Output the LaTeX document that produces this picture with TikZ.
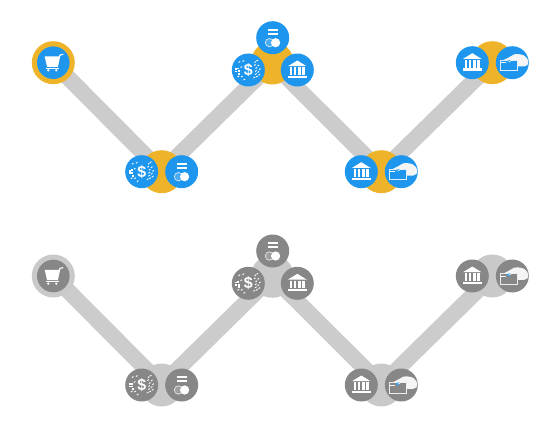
\documentclass[tikz,border=0pt]{standalone}
\usepackage{fontspec}
\setsansfont{Liberation Sans}
\usetikzlibrary{backgrounds}
\definecolor{goldc}{HTML}{EFB329}
\definecolor{bluec}{HTML}{1E96EE}
\definecolor{greyc}{HTML}{878787}
\definecolor{softc}{HTML}{C9C9C9}
\definecolor{linec}{HTML}{CCCCCC}
\definecolor{markc}{HTML}{3FA4EE}
\tikzset{
  hub/.style={circle,inner sep=0pt,minimum size=43pt,fill=hubc},
  tool/.style={circle,inner sep=0pt,minimum size=33pt,fill=toolc},
  link/.style={line width=16pt,draw=linec},
  pics/cart/.style={code={
    \fill[white] (-8.6,-6.2) -- (6.2,-6.2) -- (4.2,4.2) -- (-6.2,4.2) -- cycle;
    \draw[white,line width=1.1pt] (4,4.2) -- (6.6,-7.6) -- (10,-8.4);
    \draw[white,line width=1.2pt] (-7,5.6) -- (5.2,5.6);
    \fill[white] (-5,7.6) circle (1.3pt) (3,7.6) circle (1.3pt);
  }},
  pics/dollar/.style={code={
    \node[text=white,font=\sffamily\bfseries\fontsize{16}{16}\selectfont,inner sep=0pt] at (0,0.2) {\$};
    \foreach \x/\y in {-12/1.5,-10/-1.4,-9.6/1.4,-12/-0.8,-9/4}
      \fill[white] (\x-0.9,\y-0.9) rectangle (\x+0.9,\y+0.9);
    \foreach \x/\y in {-9/-8,-7/-3,-5/-9,-10/6.5,-6.5/6.5,-4/9.5,
                       7/-8,9/-9.5,6.5/-5,10/-4.5,8/-2,11.5/-0.8,7.5/1,10/2,7.5/4,11/4.8,6/7.5,8.5/6.5}
      \draw[white,line width=0.9pt] (\x-0.8,\y+0.5) -- (\x+0.8,\y-0.5);
  }},
  pics/toggle/.style={code={
    \draw[white,line width=1.9pt] (-5.2,-7.7) -- (5.2,-7.7) (-5.2,-3.7) -- (5.2,-3.7);
    \draw[white!80!toolc,line width=0.7pt,fill=white,fill opacity=0.2] (-3.2,5) circle (4.2pt);
    \fill[white] (2.9,5) circle (4.6pt);
  }},
  pics/bank/.style={code={
    \fill[white] (0,-9.5) -- (9.2,-3.8) -- (-9.2,-3.8) -- cycle;
    \foreach \x in {-6.2,-2.1,2.1,6.2} \fill[white] (\x-1.25,-2.6) rectangle (\x+1.25,5);
    \fill[white] (-9.8,5.8) rectangle (9.8,8);
  }},
  pics/cardcloud/.style={code={
    \fill[white!96!black] (-9,-2.5) -- (-4,-5) -- (2,-8.4) .. controls (6,-9) and (10,-8.2) .. (12,-7)
      .. controls (14.5,-5.5) and (15.7,-3.5) .. (16,-1) .. controls (16.2,1.5) and (15,3.8) .. (12,3.8)
      -- (4,3.8) -- (-3,-1) -- cycle;
    \fill[toolc] (-11.7,-2.3) rectangle (5,8);
    \draw[white!85!toolc,line width=0.8pt] (-11.7,-2.3) rectangle (5,8);
    \draw[white,line width=1pt] (-11.7,0.2) -- (-6,0.2);
    \fill[markc] (-6,-1.5) -- (-2,-2.8) -- (-3,1) -- cycle;
    \draw[white,line width=0.6pt] (-3,-1) -- (1,-3.5);
  }},
}
\newcommand{\wayline}[1]{%
  \node[hub] (#1a) at (53.3,62.7) {};
  \node[tool,minimum size=32.6pt] (#1at) at (53.3,62.7) {};
  \pic at (#1at.center) {cart};
  \node[hub] (#1b) at (161.7,171.7) {};
  \node[tool] (#1bl) at (141.7,171.7) {};
  \pic at (#1bl.center) {dollar};
  \node[tool] (#1br) at (181.7,171.7) {};
  \pic at (#1br.center) {toggle};
  \node[hub] (#1c) at (272.3,63) {};
  \node[tool] (#1ct) at (272.7,37.7) {};
  \pic at (#1ct.center) {toggle};
  \node[tool] (#1cl) at (248.3,70) {};
  \pic at (#1cl.center) {dollar};
  \node[tool] (#1cr) at (297.3,70) {};
  \pic at (#1cr.center) {bank};
  \node[hub] (#1d) at (381.3,171.7) {};
  \node[tool] (#1dl) at (361.3,171.7) {};
  \pic at (#1dl.center) {bank};
  \node[tool] (#1dr) at (401.3,171.7) {};
  \pic at (#1dr.center) {cardcloud};
  \node[hub] (#1e) at (492.3,62.7) {};
  \node[tool] (#1el) at (472.3,62.7) {};
  \pic at (#1el.center) {bank};
  \node[tool] (#1er) at (512.3,62.7) {};
  \pic at (#1er.center) {cardcloud};
  \begin{pgfonlayer}{background}
    \draw[link] (#1a.center) -- (#1b.center) -- (#1c.center) -- (#1d.center) -- (#1e.center);
  \end{pgfonlayer}
}
\begin{document}
\begin{tikzpicture}[x=1pt,y=-1pt]
  \useasboundingbox (0,0) rectangle (560,428);
  \begin{scope}
    \colorlet{hubc}{goldc}\colorlet{toolc}{bluec}
    \wayline{p}
  \end{scope}
  \begin{scope}[yshift=-213.3pt]
    \colorlet{hubc}{softc}\colorlet{toolc}{greyc}
    \wayline{q}
  \end{scope}
\end{tikzpicture}
\end{document}
